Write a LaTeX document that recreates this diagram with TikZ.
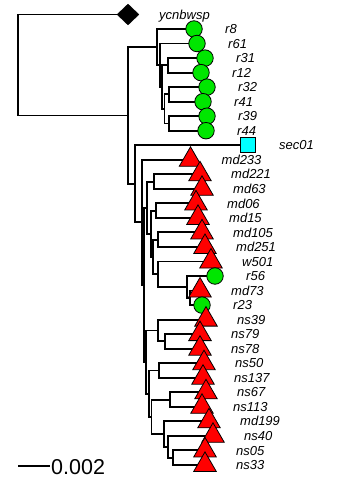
\documentclass[tikz,border=0pt]{standalone}
\usepackage{fontspec}
\setmainfont{Liberation Sans}
\usetikzlibrary{shapes.geometric,calc}
\definecolor{leafgreen}{RGB}{0,230,0}
\definecolor{leafred}{RGB}{255,0,0}
\definecolor{leafcyan}{RGB}{0,255,255}
\tikzset{
  branch/.style={draw=black,line width=1.9pt},
  circmark/.style={circle,draw=black,line width=0.8pt,fill=leafgreen,inner sep=0pt,minimum size=16.5pt},
  trimark/.style={regular polygon,regular polygon sides=3,draw=black,line width=0.8pt,fill=leafred,inner sep=0pt,minimum size=26pt},
  sqmark/.style={rectangle,draw=black,line width=0.8pt,fill=leafcyan,inner sep=0pt,minimum size=15pt},
  dmmark/.style={diamond,draw=black,fill=black,inner sep=0pt,minimum width=22pt,minimum height=21pt},
  leaflab/.style={anchor=base west,inner sep=0pt,font=\fontsize{13}{15}\selectfont\itshape},
  scalelab/.style={anchor=base west,inner sep=0pt,font=\fontsize{21.5}{24}\selectfont}
}
\begin{document}
\begin{tikzpicture}[x=1pt,y=-1pt]
\useasboundingbox (0,0) rectangle (339,479);
% leaf tips
\foreach \n/\x/\y in {ycnbwsp/128/14.5,r8/194/29.0,r61/197/43.5,r31/205/58.1,r12/201/72.6,r32/207/87.1,r41/203/101.7,r39/207/116.2,r44/206/130.7,sec01/248/145.2,md233/190.5/159.8,md221/200/174.3,md63/202/188.8,md06/196/203.4,md15/198/217.9,md105/202/232.4,md251/205/247.0,w501/211/261.5,r56/215/276.0,md73/200/290.5,r23/202/305.1,ns39/206/319.6,ns79/200/334.1,ns78/200/348.7,ns50/204/363.2,ns137/203/377.7,ns67/206/392.3,ns113/202/406.8,md199/209/421.3,ns40/213/435.8,ns05/205/450.4,ns33/205/464.9}
  {\coordinate (t-\n) at (\x,\y);}
% internal nodes
\coordinate (root) at (18,65);
\coordinate (X) at (128,115.5);
\coordinate (cA) at (157,47.15);
\coordinate (cB) at (160,65.3);
\coordinate (cC) at (162,87.1);
\coordinate (c3112) at (168,65.35);
\coordinate (cD) at (164.5,108.9);
\coordinate (c3241) at (169,94.4);
\coordinate (c3944) at (169,123.45);
\coordinate (Z) at (135,183.8);
\coordinate (Y) at (141.7,222.35);
\coordinate (W) at (144,284.9);
\coordinate (V) at (146.7,207.7);
\coordinate (N1) at (154,181.55);
\coordinate (U) at (150.7,233.8);
\coordinate (N2) at (155.7,210.65);
\coordinate (T) at (152.7,256.95);
\coordinate (N3) at (158,239.7);
\coordinate (N4) at (158,274.2);
\coordinate (M6) at (187,286.9);
\coordinate (M7) at (190,297.8);
\coordinate (R) at (145.8,362.05);
\coordinate (N5) at (158,330.5);
\coordinate (N5in) at (165,341.4);
\coordinate (Q) at (148.7,393.6);
\coordinate (N6) at (158.7,370.45);
\coordinate (P) at (151.5,416.8);
\coordinate (N7) at (169.7,399.55);
\coordinate (N8) at (164,434);
\coordinate (N8b) at (168,446.7);
\coordinate (N8c) at (173,457.65);
% branches
\foreach \p/\c in {root/t-ycnbwsp,root/X,X/cA,X/Z,cA/t-r8,cA/cB,cB/t-r61,cB/cC,cC/c3112,cC/cD,c3112/t-r31,c3112/t-r12,cD/c3241,cD/c3944,c3241/t-r32,c3241/t-r41,c3944/t-r39,c3944/t-r44,Z/t-sec01,Z/Y,Y/t-md233,Y/W,W/V,W/R,V/N1,V/U,N1/t-md221,N1/t-md63,U/N2,U/T,N2/t-md06,N2/t-md15,T/N3,T/N4,N3/t-md105,N3/t-md251,N4/t-w501,N4/M6,M6/t-r56,M6/M7,M7/t-md73,M7/t-r23,R/N5,R/Q,N5/t-ns39,N5/N5in,N5in/t-ns79,N5in/t-ns78,Q/N6,Q/P,N6/t-ns50,N6/t-ns137,P/N7,P/N8,N7/t-ns67,N7/t-ns113,N8/t-md199,N8/N8b,N8b/t-ns40,N8b/N8c,N8c/t-ns05,N8c/t-ns33}
  {\draw[branch] (\p) |- (\c);}
% markers
\node[dmmark] (ycnbwsp) at (t-ycnbwsp) {};
\foreach \n/\s in {r8/circmark,r61/circmark,r31/circmark,r12/circmark,r32/circmark,r41/circmark,r39/circmark,r44/circmark,sec01/sqmark,md233/trimark,md221/trimark,md63/trimark,md06/trimark,md15/trimark,md105/trimark,md251/trimark,w501/trimark,r56/circmark,md73/trimark,r23/circmark,ns39/trimark,ns79/trimark,ns78/trimark,ns50/trimark,ns137/trimark,ns67/trimark,ns113/trimark,md199/trimark,ns40/trimark,ns05/trimark,ns33/trimark}
  {\node[\s] (\n) at (t-\n) {};}
% labels
\foreach \n in {ycnbwsp,r8,r61,r31,r12,r32,r41,r39,r44,sec01,md233,md221,md63,md06,md15,md105,md251,w501,r56,md73,r23,ns39,ns79,ns78,ns50,ns137,ns67,ns113,md199,ns40,ns05,ns33}
  {\node[leaflab] (l-\n) at ($(t-\n)+(31,4.6)$) {\n};}
% scale bar
\coordinate (sb1) at (18,466);
\coordinate (sb2) at (50,466);
\draw[line width=1.5pt] (sb1) -- (sb2);
\node[scalelab] (sblab) at (51,474) {0.002};
\end{tikzpicture}
\end{document}
